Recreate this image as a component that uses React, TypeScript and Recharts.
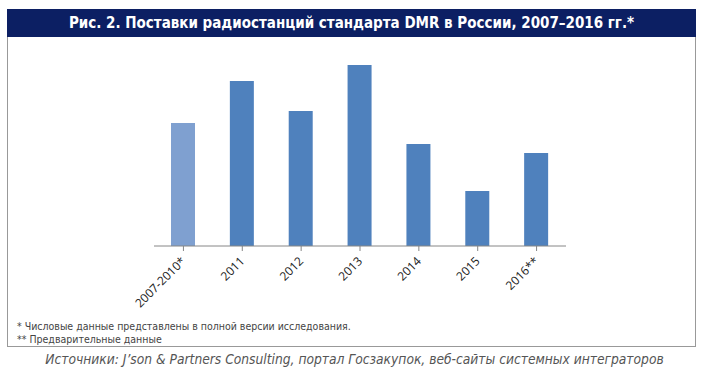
import { BarChart, Bar, XAxis, YAxis, Cell } from "recharts";

const years = ["2007-2010*", "2011", "2012", "2013", "2014", "2015", "2016**"];
const shipments = [123, 165, 135, 181, 102, 55, 93];
const barColors = ["#7fa0d0", "#4f81bd", "#4f81bd", "#4f81bd", "#4f81bd", "#4f81bd", "#4f81bd"];

const data = years.map((year, i) => ({ year, value: shipments[i] }));

function YearTick({ x, y, payload }: any) {
  const px = x + 3;
  const py = y + 9;
  return (
    <text
      x={px}
      y={py}
      transform={`rotate(-45 ${px} ${py})`}
      textAnchor="end"
      fontSize={12}
      fontFamily="'Open Sans', sans-serif"
      fill="#222"
    >
      {payload.value}
    </text>
  );
}

export default function App() {
  return (
    <div style={{ position: "absolute", left: 0, top: 0, width: 709, height: 379, background: "#fff" }}>
      <div
        style={{
          position: "absolute",
          left: 7,
          top: 9,
          width: 689,
          height: 338,
          border: "1px solid #999",
          boxSizing: "border-box",
        }}
      />
      <div
        style={{
          position: "absolute",
          left: 7,
          top: 9,
          width: 689,
          height: 28,
          background: "#0c1f63",
          color: "#fff",
          fontFamily: "'DejaVu Sans Condensed', 'DejaVu Sans', sans-serif",
          fontWeight: "bold",
          fontSize: 15,
          lineHeight: "28px",
          textAlign: "center",
        }}
      >
        Рис. 2. Поставки радиостанций стандарта DMR в России, 2007–2016 гг.*
      </div>
      <div style={{ position: "absolute", left: 0, top: 0 }}>
        <BarChart width={709} height={379} data={data} margin={{ top: 46, right: 143, bottom: 73, left: 154 }}>
          <XAxis
            dataKey="year"
            height={60}
            interval={0}
            tick={<YearTick />}
            tickSize={5}
            axisLine={{ stroke: "#868686" }}
            tickLine={{ stroke: "#868686" }}
          />
          <YAxis hide domain={[0, 200]} />
          <Bar dataKey="value" barSize={24} isAnimationActive={false}>
            {data.map((d, i) => (
              <Cell key={d.year} fill={barColors[i]} />
            ))}
          </Bar>
        </BarChart>
      </div>
      <div
        style={{
          position: "absolute",
          left: 17,
          top: 320,
          fontFamily: "'DejaVu Sans Condensed', 'DejaVu Sans', sans-serif",
          fontSize: 10.5,
          lineHeight: "13px",
          color: "#444",
        }}
      >
        <div>* Числовые данные представлены в полной версии исследования.</div>
        <div>** Предварительные данные</div>
      </div>
      <div
        style={{
          position: "absolute",
          left: 0,
          top: 351,
          width: 709,
          textAlign: "center",
          fontFamily: "'DejaVu Sans Condensed', 'DejaVu Sans', sans-serif",
          fontStyle: "italic",
          fontSize: 13.7,
          color: "#555",
        }}
      >
        Источники: J’son &amp; Partners Consulting, портал Госзакупок, веб-сайты системных интеграторов
      </div>
    </div>
  );
}
